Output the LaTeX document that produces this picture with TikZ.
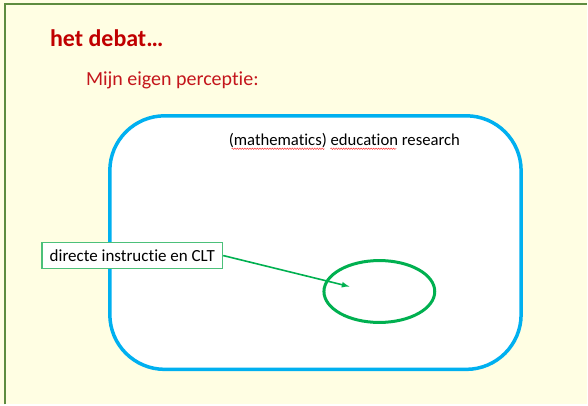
\documentclass[tikz,border=0pt]{standalone}
\usepackage{fontspec}
\setmainfont[Ligatures=NoCommon]{Carlito}
\usetikzlibrary{shapes.geometric,decorations.pathmorphing}
\definecolor{slidebg}{HTML}{FFFEE3}
\definecolor{framegreen}{HTML}{5E8C3F}
\definecolor{titlered}{HTML}{C00000}
\definecolor{subred}{HTML}{C4161C}
\definecolor{fieldblue}{HTML}{00B0F0}
\definecolor{cltgreen}{HTML}{00B050}
\definecolor{boxgreen}{HTML}{4CC07A}
\begin{document}
\begin{tikzpicture}[x=1pt, y=-1pt, >=latex,
    field/.style={draw=fieldblue, line width=3.5pt, fill=white, rounded corners=55pt},
    labelbox/.style={draw=boxgreen, line width=1.2pt, fill=white, inner xsep=5pt,
        minimum height=26pt, font=\fontsize{17}{19}\selectfont},
    squiggle/.style={draw=red!80, line width=0.5pt, decorate,
        decoration={snake, amplitude=0.7pt, segment length=2.5pt}}]
    % Achtergrond en kader van de dia
    \fill[slidebg] (0,0) rectangle (588,405);
    \draw[framegreen, line width=2pt] (5,405) -- (5,4) -- (588,4);

    % Titels
    \node[anchor=base west, inner sep=0pt, text=titlered,
        font=\fontsize{24}{28}\selectfont\bfseries] (title) at (50,47) {het debat…};
    \node[anchor=base west, inner sep=0pt, text=subred,
        font=\fontsize{20}{24}\selectfont] (sub) at (86,86) {Mijn eigen perceptie:};

    % Het veld: onderwijsonderzoek
    \draw[field] (110,116) rectangle (522,370);
    \node[anchor=base west, inner sep=0pt, font=\fontsize{16.7}{19}\selectfont]
        (research) at (229,146) {(mathematics) education research};
    \draw[squiggle] (232,149) -- (325,149);
    \draw[squiggle] (331,149) -- (397,149);

    % Deelgebied
    \node[ellipse, draw=cltgreen, line width=3pt, minimum width=111pt,
        minimum height=62pt] (clt) at (380,292) {};
    \node[labelbox, minimum width=181pt] (dct) at (132.5,256) {directe instructie en CLT};
    \coordinate (tip) at (350,287);
    \draw[->, cltgreen, line width=1.6pt] (dct.east) -- (tip);
\end{tikzpicture}
\end{document}
